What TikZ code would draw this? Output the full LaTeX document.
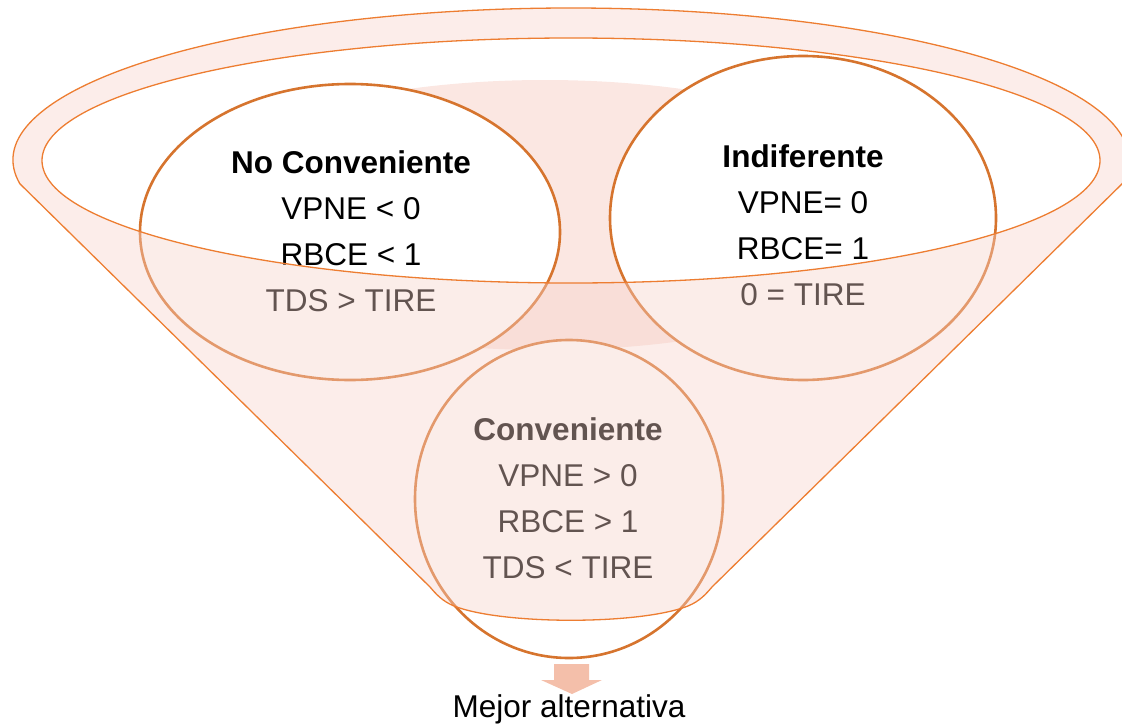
\documentclass[tikz,border=0pt]{standalone}
\usepackage{fontspec}
\setmainfont{Liberation Sans}
\usetikzlibrary{shapes.geometric}
\definecolor{circleline}{HTML}{D6742E}
\definecolor{funnelline}{HTML}{ED7D31}
\definecolor{blush}{HTML}{FBE7E2}
\definecolor{veil}{RGB}{247,210,202}
\definecolor{arrowfill}{HTML}{F4BFAA}
\begin{document}
\begin{tikzpicture}[x=1pt,y=-1pt,
  bubble/.style={ellipse, draw=circleline, line width=2.6pt, fill=white, inner sep=0pt},
  lines/.style={align=center, font=\fontsize{31.5}{46}\selectfont, inner sep=0pt},
  funnelpath/.style={draw=funnelline, line width=1.3pt},
  ]
\useasboundingbox (0,0) rectangle (1122,725);
% hidden pink circle behind
\fill[blush] (545,215) ellipse [x radius=380, y radius=135];
% circles
\node[bubble, minimum width=420pt, minimum height=296pt] (nc) at (350,232) {};
\node[bubble, minimum width=386pt, minimum height=324pt] (ind) at (803,218) {};
\node[bubble, minimum width=308pt, minimum height=318pt] (conv) at (569,499) {};
% texts
\node[lines] (nctext) at (351,231) {\textbf{No Conveniente}\\VPNE < 0\\RBCE < 1\\TDS > TIRE};
\node[lines] (indtext) at (803,225) {\textbf{Indiferente}\\VPNE= 0\\RBCE= 1\\0 = TIRE};
\node[lines] (convtext) at (568,498) {\textbf{Conveniente}\\VPNE > 0\\RBCE > 1\\TDS < TIRE};
% funnel veil
\path[fill=veil, fill opacity=0.4, even odd rule]
  (571,160) ++(171:558 and 152) arc[start angle=171, end angle=369, x radius=558, y radius=152]
  -- (712,587) .. controls (706,594) and (700,601) .. (688,606)
  .. controls (640,625) and (502,625) .. (454,606)
  .. controls (442,601) and (436,594) .. (430,587) -- cycle
  (571,160.5) ellipse [x radius=529, y radius=122.5];
% funnel outlines
\draw[funnelpath]
  (571,160) ++(171:558 and 152) arc[start angle=171, end angle=369, x radius=558, y radius=152]
  -- (712,587) .. controls (706,594) and (700,601) .. (688,606)
  .. controls (640,625) and (502,625) .. (454,606)
  .. controls (442,601) and (436,594) .. (430,587) -- cycle;
\draw[funnelpath] (571,160.5) ellipse [x radius=529, y radius=122.5];
% arrow
\fill[arrowfill] (554,664) -- (589,664) -- (589,680) -- (602,680) -- (572,694) -- (541,680) -- (554,680) -- cycle;
\node[anchor=base, font=\fontsize{31.5}{38}\selectfont, inner sep=0pt] (best) at (569,717) {Mejor alternativa};
\end{tikzpicture}
\end{document}
